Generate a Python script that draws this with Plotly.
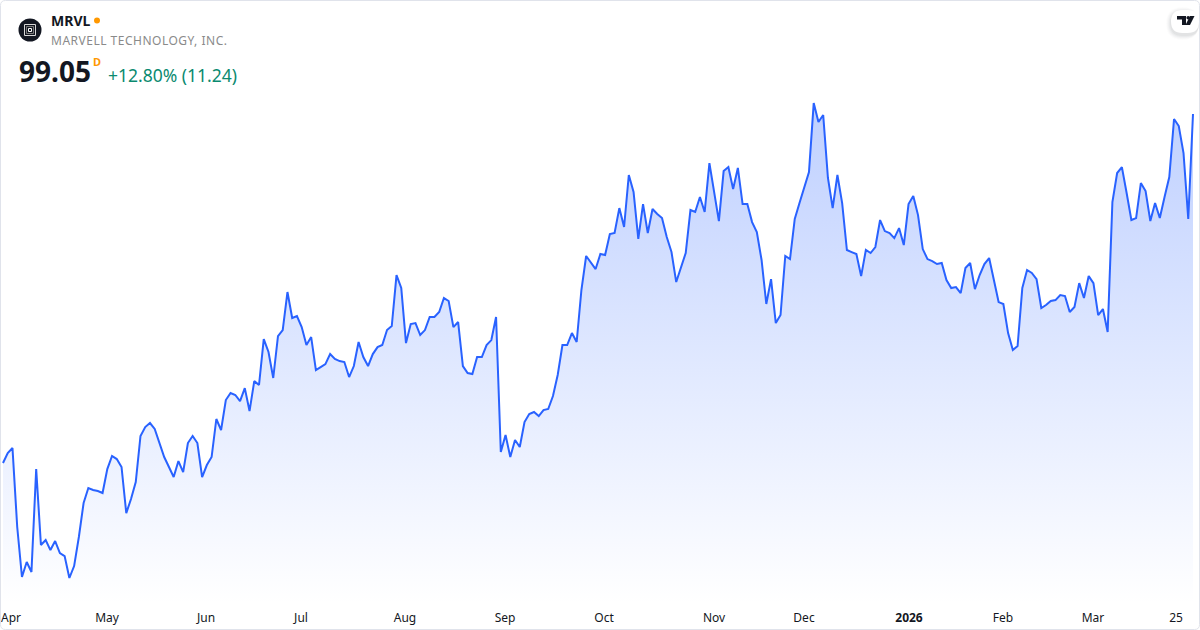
import plotly.graph_objects as go

ticker = "MRVL"
company = "MARVELL TECHNOLOGY, INC."
last_price = "99.05"
change_text = "+12.80% (11.24)"

prices = [
61.69,62.76,63.30,54.84,49.49,51.09,50.02,61.04,52.91,53.45,52.37,53.34,52.05,51.73,49.38,50.66,53.77,57.41,59.01,58.80,
58.69,58.48,61.04,62.44,62.11,61.26,56.33,57.83,59.65,64.58,65.54,65.97,65.33,63.83,62.33,61.26,60.19,61.90,60.72,63.83,
64.58,63.83,60.19,61.47,62.33,66.40,65.22,68.43,69.18,68.97,68.32,69.71,67.25,70.46,70.04,74.96,73.57,70.79,75.28,75.92,
79.99,77.21,77.42,76.24,74.32,75.17,71.64,71.96,72.28,73.35,72.82,72.60,72.50,70.89,72.07,74.64,73.03,72.07,73.35,74.10,
74.32,75.92,76.35,81.81,80.42,74.53,76.57,76.67,75.39,75.92,77.32,77.32,77.85,79.35,79.03,76.24,76.78,72.07,71.32,71.21,
73.03,73.03,74.32,74.85,77.32,62.86,64.68,62.33,64.15,63.40,66.07,66.93,67.15,66.72,67.36,67.47,68.86,71.11,74.32,74.32,
75.60,74.64,80.21,83.85,83.20,82.45,84.06,83.95,86.20,86.31,88.98,86.95,92.52,90.70,85.67,89.41,86.31,88.88,88.34,87.91,
85.88,84.27,81.06,82.67,84.17,88.77,88.56,90.16,88.56,93.80,90.70,87.59,92.94,93.37,91.02,93.27,89.41,89.41,87.48,86.41,
83.42,78.71,81.38,76.67,77.53,83.85,83.52,87.81,89.52,91.12,92.84,100.22,98.19,98.94,92.20,88.98,92.52,89.52,84.49,84.27,
84.06,81.70,84.49,84.17,84.81,87.70,86.52,86.31,85.77,86.84,85.02,89.41,90.27,88.23,84.59,83.52,83.31,82.99,83.10,81.28,
80.42,80.53,79.88,82.56,83.10,80.31,81.81,82.99,83.63,81.28,78.92,78.71,75.60,73.78,74.21,80.42,82.35,82.03,81.38,78.28,
78.60,79.03,79.13,79.67,79.56,77.85,78.39,80.95,79.35,81.70,80.95,77.53,78.17,75.71,89.63,92.73,93.37,90.59,87.70,87.91,
91.66,90.80,87.59,89.52,87.91,90.16,92.30,98.51,97.76,94.87,87.81,99.05,
]
tick_labels = ["Apr", "May", "Jun", "Jul", "Aug", "Sep", "Oct", "Nov", "Dec", "<b>2026</b>", "Feb", "Mar", "25"]
tick_centers_px = [11, 107, 206, 301, 405, 505, 604, 714, 804, 909, 1003, 1093, 1176]

W, H, PLOT_H = 1200, 630, 604
n = len(prices)
FIRST_PX, LAST_PX = 3.0, 1193.0
step = (LAST_PX - FIRST_PX) / (n - 1)
px_to_i = lambda p: (p - FIRST_PX) / step
xrange_ = [px_to_i(0), px_to_i(W)]
# vertical scale anchored on the last close and the previous close
per_px = 11.24 / 105
y_top = 99.05 + 114 * per_px
y_bot = y_top - PLOT_H * per_px

fx = lambda p: p / W
fy = lambda p: 1 - p / PLOT_H

fig = go.Figure(go.Scatter(
    x=list(range(n)), y=prices, mode="lines",
    line=dict(color="#2962ff", width=2, shape="linear"),
    fill="tozeroy",
    fillgradient=dict(type="vertical", start=y_bot, stop=max(prices),
                      colorscale=[[0, "rgba(41,98,255,0.0)"], [1, "rgba(41,98,255,0.3)"]]),
    hoverinfo="skip",
))

def path(points):
    return "M " + " L ".join(f"{fx(a)} {fy(b)}" for a, b in points) + " Z"

def rrect(x0, y0, x1, y1, r):
    return (f"M {fx(x0+r)} {fy(y0)} L {fx(x1-r)} {fy(y0)} Q {fx(x1)} {fy(y0)} {fx(x1)} {fy(y0+r)} "
            f"L {fx(x1)} {fy(y1-r)} Q {fx(x1)} {fy(y1)} {fx(x1-r)} {fy(y1)} "
            f"L {fx(x0+r)} {fy(y1)} Q {fx(x0)} {fy(y1)} {fx(x0)} {fy(y1-r)} "
            f"L {fx(x0)} {fy(y0+r)} Q {fx(x0)} {fy(y0)} {fx(x0+r)} {fy(y0)} Z")

shapes = []
def rect(x0, y0, x1, y1, fill=None, line=None, lw=0):
    shapes.append(dict(type="rect", xref="paper", yref="paper", x0=fx(x0), x1=fx(x1), y0=fy(y0), y1=fy(y1),
                       fillcolor=fill or "rgba(0,0,0,0)", line=dict(color=line or "rgba(0,0,0,0)", width=lw), layer="above"))
def circle(cx, cy, r, fill):
    shapes.append(dict(type="circle", xref="paper", yref="paper", x0=fx(cx-r), x1=fx(cx+r), y0=fy(cy-r), y1=fy(cy+r),
                       fillcolor=fill, line=dict(width=0), layer="above"))
def pathshape(d, fill):
    shapes.append(dict(type="path", xref="paper", yref="paper", path=d, fillcolor=fill, line=dict(width=0), layer="above"))

# card border
shapes.append(dict(type="path", xref="paper", yref="paper", path=rrect(0.5, 0.5, 1199.5, 629.5, 5),
                   fillcolor="rgba(0,0,0,0)", line=dict(color="#e0e3eb", width=1), layer="above"))
# symbol logo
circle(30, 30, 11.5, "#131722")
rect(24.5, 24.5, 35.5, 35.5, None, "#d8d8d8", 1)
rect(26.5, 26.5, 33.5, 33.5, None, "#7a7a7a", 1)
rect(28.5, 28.5, 31.5, 31.5, None, "#ffffff", 1)
# status dot
circle(97, 20.5, 3, "#ff9800")
# TradingView badge with soft shadow
for grow, alpha in ((5, 0.012), (4, 0.018), (3, 0.025), (2, 0.03), (1, 0.035)):
    pathshape(rrect(1171 - grow, 10 - grow + 2, 1199, 33 + grow + 2, 11.5 + grow), f"rgba(19,23,34,{alpha})")
pathshape(rrect(1171, 10, 1199, 33, 11.5), "#ffffff")
pathshape(path([(1177, 16), (1186, 16), (1186, 25), (1182, 25), (1182, 19.5), (1177, 19.5)]), "#131722")
circle(1188.2, 17.8, 1.8, "#131722")
pathshape(path([(1190, 16), (1194.5, 16), (1190, 25), (1185.5, 25)]), "#131722")

def text(x, y, s, size, color, family="Noto Sans", **kw):
    return dict(xref="paper", yref="paper", x=fx(x), y=fy(y), text=s, showarrow=False, xanchor="left", yanchor="middle",
                font=dict(size=size, color=color, family=family), **kw)

annotations = [
    text(49, 20.5, f"<b>{ticker}</b>", 14, "#131722"),
    text(55, 40.5, company, 12, "#8a8a8a"),
    text(16.5, 71, f"<b>{last_price}</b>", 28, "#131722"),
    text(91, 62, "<b>D</b>", 11, "#ff9800"),
    text(106, 74.5, change_text, 17.5, "#0b8a6f"),
]

fig.update_layout(
    width=W, height=H, margin=dict(l=0, r=0, t=0, b=H - PLOT_H),
    paper_bgcolor="#ffffff", plot_bgcolor="#ffffff", showlegend=False,
    shapes=shapes, annotations=annotations,
    xaxis=dict(range=xrange_, showgrid=False, zeroline=False, showline=False, fixedrange=True,
               tickmode="array", tickvals=[px_to_i(p) for p in tick_centers_px], ticktext=tick_labels,
               ticks="outside", ticklen=3, tickcolor="rgba(0,0,0,0)", tickangle=0,
               tickfont=dict(family="Noto Sans", size=12, color="#131722")),
    yaxis=dict(range=[y_bot, y_top], visible=False, fixedrange=True),
)
fig.write_html("out.html", config=dict(displayModeBar=False),
               post_script=("document.body.style.margin='0';document.body.style.overflow='hidden';"
                            "document.querySelectorAll('.annotation-text').forEach(function(t){"
                            "if(t.textContent.indexOf('MARVELL')===0){t.style.letterSpacing='0.5px';}});"))
